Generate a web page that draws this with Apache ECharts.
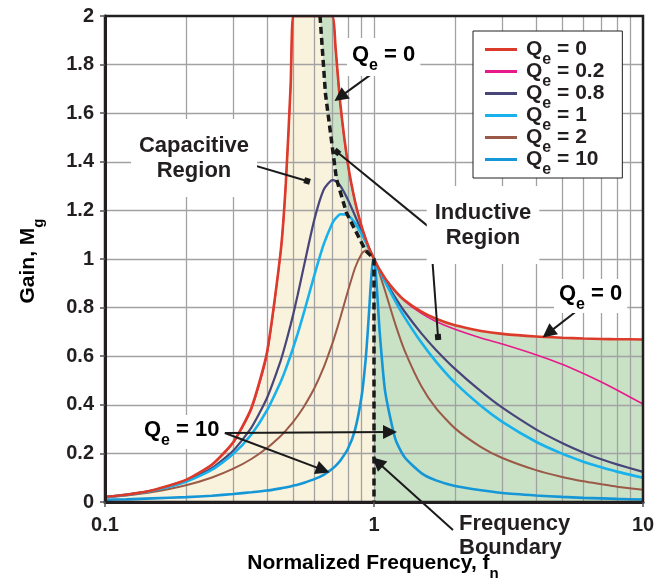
<!DOCTYPE html>
<html><head><meta charset="utf-8">
<script src="https://cdn.jsdelivr.net/npm/echarts@6/dist/echarts.min.js"></script>
<style>html,body{margin:0;padding:0;background:#fff}#c{width:665px;height:582px}</style>
</head><body><div id="c"></div>
<script>
// ---------- data ----------
const fn = [0.1, 0.12, 0.15, 0.2, 0.25, 0.3, 0.35, 0.4, 0.45, 0.47, 0.49, 0.5, 0.52, 0.55, 0.6, 0.65, 0.7, 0.72, 0.75, 0.8, 0.85, 0.9, 0.93, 0.95, 0.97, 0.98, 0.99, 1, 1.01, 1.02, 1.03, 1.05, 1.1, 1.2, 1.3, 1.5, 1.7, 2, 2.5, 3, 4, 5, 6, 7, 8, 10];
const gainQe0 = [0.021, 0.030, 0.048, 0.091, 0.154, 0.247, 0.387, 0.615, 1.032, 1.310, 1.717, 2, 2, 2, 2, 2, 2, 1.867, 1.636, 1.391, 1.238, 1.133, 1.085, 1.057, 1.032, 1.021, 1.010, 1, 0.990, 0.981, 0.972, 0.956, 0.920, 0.868, 0.830, 0.783, 0.754, 0.727, 0.704, 0.692, 0.681, 0.676, 0.673, 0.671, 0.670, 0.669];
const gainQe02 = [0.021, 0.030, 0.048, 0.091, 0.153, 0.244, 0.380, 0.605, 1.030, 1.305, 1.710, 2, 2, 2, 2, 2, 2, 1.862, 1.630, 1.387, 1.235, 1.132, 1.084, 1.057, 1.032, 1.021, 1.010, 1, 0.990, 0.981, 0.972, 0.955, 0.920, 0.866, 0.827, 0.776, 0.743, 0.711, 0.675, 0.650, 0.606, 0.567, 0.529, 0.494, 0.461, 0.403];
const gainQe08 = [0.020, 0.030, 0.047, 0.086, 0.140, 0.212, 0.306, 0.428, 0.582, 0.654, 0.730, 0.769, 0.851, 0.975, 1.162, 1.285, 1.325, 1.321, 1.301, 1.244, 1.178, 1.113, 1.076, 1.053, 1.031, 1.021, 1.010, 1, 0.990, 0.981, 0.971, 0.953, 0.911, 0.841, 0.783, 0.694, 0.626, 0.548, 0.455, 0.388, 0.299, 0.243, 0.204, 0.176, 0.155, 0.124];
const gainQe1 = [0.020, 0.029, 0.046, 0.083, 0.133, 0.198, 0.278, 0.377, 0.495, 0.548, 0.604, 0.633, 0.692, 0.783, 0.933, 1.060, 1.147, 1.167, 1.184, 1.179, 1.148, 1.102, 1.072, 1.051, 1.030, 1.020, 1.010, 1, 0.990, 0.980, 0.971, 0.951, 0.906, 0.827, 0.760, 0.656, 0.578, 0.491, 0.395, 0.330, 0.248, 0.199, 0.166, 0.143, 0.125, 0.100];
const gainQe2 = [0.019, 0.027, 0.041, 0.069, 0.101, 0.137, 0.177, 0.222, 0.272, 0.294, 0.317, 0.329, 0.354, 0.394, 0.468, 0.554, 0.652, 0.694, 0.759, 0.868, 0.963, 1.022, 1.035, 1.033, 1.024, 1.018, 1.009, 1, 0.990, 0.978, 0.966, 0.939, 0.868, 0.732, 0.623, 0.476, 0.386, 0.303, 0.226, 0.181, 0.131, 0.103, 0.085, 0.073, 0.063, 0.050];
const gainQe10 = [0.009, 0.011, 0.015, 0.020, 0.026, 0.033, 0.040, 0.047, 0.056, 0.060, 0.064, 0.067, 0.071, 0.079, 0.094, 0.112, 0.137, 0.149, 0.171, 0.219, 0.297, 0.437, 0.581, 0.716, 0.874, 0.944, 0.990, 1, 0.972, 0.914, 0.843, 0.699, 0.455, 0.260, 0.184, 0.119, 0.089, 0.066, 0.048, 0.037, 0.027, 0.021, 0.017, 0.015, 0.013, 0.010];
const qeLabels = ['0', '0.2', '0.8', '1', '2', '10'];

// boundary between capacitive and inductive regions (dashed line)
const boundaryFn = [0.63, 0.66, 0.70, 0.725, 0.79, 0.93, 1, 1];
const boundaryGain = [2, 1.68, 1.46, 1.33, 1.19, 1.035, 1, 0];

// grid lines
const gridFn = [0.2, 0.3, 0.4, 0.5, 0.6, 0.7, 0.8, 0.9, 1, 2, 3, 4, 5, 6, 7, 8, 9];
const gridGain = [0.2, 0.4, 0.6, 0.8, 1, 1.2, 1.4, 1.6, 1.8];

// annotation leader lines, in data coordinates [fn, gain]
const arrowLeaders = [
  [[0.99, 1.765], [0.748, 1.667]],
  [[5.73, 0.79], [4.44, 0.695]],
  [[0.279, 0.284], [1.147, 0.288]],
  [[0.279, 0.284], [0.646, 0.132]],
  [[1.966, -0.115], [1.03, 0.165]]
];
const dotLeaders = [
  [[0.299, 1.411], [0.564, 1.321]],
  [[1.615, 1.128], [0.729, 1.44]],
  [[1.615, 1.128], [1.73, 0.679]]
];

// ---------- styles ----------
const FONT = '"Liberation Sans", Arial, Helvetica, sans-serif';
const INK = '#231f20';
const curveSeriesData = [gainQe0, gainQe02, gainQe08, gainQe1, gainQe2, gainQe10];
const curveStyle = [
  {color: '#dc3b2b', width: 2.6},
  {color: '#e8198b', width: 1.6},
  {color: '#48457a', width: 2.2},
  {color: '#17b1ec', width: 2.6},
  {color: '#9b5a47', width: 2.0},
  {color: '#1596d6', width: 2.6}
];
const drawOrder = [1, 2, 4, 3, 5, 0];
const names = qeLabels.map(l => 'Qe = ' + l);

const pairs = (xs, ys) => xs.map((x, i) => [x, ys[i]]);

const curveSeries = drawOrder.map(k => ({
  name: names[k], type: 'line', data: pairs(fn, curveSeriesData[k]),
  showSymbol: false, symbol: 'none', smooth: 0.2, z: 3, silent: true,
  color: curveStyle[k].color,
  lineStyle: {color: curveStyle[k].color, width: curveStyle[k].width}
}));

// fills
const boundaryPts = pairs(boundaryFn, boundaryGain);
const capFill = pairs(fn, gainQe0).filter(p => p[0] < boundaryFn[0]).concat(boundaryPts);
const indFill = [[boundaryFn[0], 2]].concat(pairs(fn, gainQe0).filter(p => p[0] > boundaryFn[0]));

const rich = (big, small) => ({
  q: {fontSize: big, fontWeight: 'bold', fontFamily: FONT, color: INK, lineHeight: 22},
  e: {fontSize: small, fontWeight: 'bold', fontFamily: FONT, color: INK, lineHeight: 22, verticalAlign: 'bottom', height: 1}
});
const qeText = l => '{q|Q}{e|e}{q| = ' + l + '}';

const chart = echarts.init(document.getElementById('c'), null, {renderer: 'canvas'});
chart.setOption({
  animation: false,
  textStyle: {fontFamily: FONT},
  grid: {left: 105, right: 22, top: 16, bottom: 80, show: true, borderColor: INK, borderWidth: 2.5, backgroundColor: 'transparent', z: 6},
  xAxis: {
    type: 'log', logBase: 10, min: 0.1, max: 10, z: 6,
    axisLine: {lineStyle: {color: INK, width: 3}},
    axisTick: {length: 5, lineStyle: {color: '#555', width: 1.5}},
    axisLabel: {fontSize: 20, fontWeight: 'bold', color: INK, margin: 13, fontFamily: FONT},
    splitLine: {show: false}, minorTick: {show: false}
  },
  yAxis: {
    type: 'value', min: 0, max: 2, interval: 0.2, z: 6,
    axisLine: {show: true, lineStyle: {color: INK, width: 3}},
    axisTick: {show: true, length: 5, lineStyle: {color: '#555', width: 1.5}},
    axisLabel: {fontSize: 20, fontWeight: 'bold', color: INK, margin: 11, fontFamily: FONT},
    splitLine: {show: false}
  },
  legend: {
    data: names, orient: 'vertical', left: 473, top: 31, itemWidth: 32, itemHeight: 3, itemGap: -7,
    icon: 'rect', selectedMode: false, backgroundColor: '#fff', borderColor: INK, borderWidth: 1,
    padding: [8, 18, 0, 12], z: 20,
    formatter: n => qeText(n.replace('Qe = ', '')),
    textStyle: {fontSize: 21, fontWeight: 'bold', color: INK, padding: [0, 0, 0, 4], rich: rich(21, 16)}
  },
  series: [
    {name: 'indFill', type: 'line', data: indFill, symbol: 'none', silent: true, z: 1,
     lineStyle: {width: 0, opacity: 0}, areaStyle: {color: '#c9e2c6', opacity: 1}},
    {name: 'capFill', type: 'line', data: capFill, symbol: 'none', silent: true, z: 1,
     lineStyle: {width: 0, opacity: 0}, areaStyle: {color: '#f9f2dc', opacity: 1}},
    {name: 'gridlines', type: 'lines', coordinateSystem: 'cartesian2d', silent: true, z: 2,
     data: gridFn.map(x => ({coords: [[x, 0], [x, 2]]})).concat(gridGain.map(y => ({coords: [[0.1, y], [10, y]]}))),
     lineStyle: {color: '#a2a2a2', width: 1.3, opacity: 1}},
    ...curveSeries,
    {name: 'boundary', type: 'line', data: boundaryPts, symbol: 'none', silent: true, z: 4,
     lineStyle: {color: '#1a1a1a', width: 3.5, type: [7, 4]}},
    {name: 'arrows', type: 'lines', coordinateSystem: 'cartesian2d', silent: true, z: 5, clip: false,
     symbol: ['none', 'triangle'], symbolSize: 14,
     data: arrowLeaders.map(c => ({coords: c})),
     lineStyle: {color: '#1a1a1a', width: 2, opacity: 1}},
    {name: 'dots', type: 'lines', coordinateSystem: 'cartesian2d', silent: true, z: 5, clip: false,
     symbol: ['none', 'rect'], symbolSize: 6,
     data: dotLeaders.map(c => ({coords: c})),
     lineStyle: {color: '#1a1a1a', width: 2, opacity: 1}}
  ],
  graphic: [
    {type: 'text', x: 194, y: 158, z: 50, style: {text: 'Capacitive\nRegion', fontSize: 22, fontWeight: 'bold', fontFamily: FONT, fill: INK, align: 'center', verticalAlign: 'middle', lineHeight: 25, backgroundColor: '#fff', padding: [14, 8, 14, 8]}},
    {type: 'text', x: 483, y: 225, z: 50, style: {text: 'Inductive\nRegion', fontSize: 22, fontWeight: 'bold', fontFamily: FONT, fill: INK, align: 'center', verticalAlign: 'middle', lineHeight: 25, backgroundColor: '#fff', padding: [14, 8, 14, 8]}},
    {type: 'text', x: 457, y: 536, z: 50, style: {text: 'Frequency\nBoundary', fontSize: 22, fontWeight: 'bold', fontFamily: FONT, fill: INK, align: 'left', verticalAlign: 'middle', lineHeight: 24, backgroundColor: '#fff', padding: [0, 2, 0, 2]}},
    {type: 'text', x: 347, y: 57, z: 50, style: {text: qeText('0'), rich: rich(22, 16), align: 'left', verticalAlign: 'middle', backgroundColor: '#fff', padding: [6, 5, 10, 5]}},
    {type: 'text', x: 554, y: 296, z: 50, style: {text: qeText('0'), rich: rich(22, 16), align: 'left', verticalAlign: 'middle', backgroundColor: '#fff', padding: [4, 5, 8, 5]}},
    {type: 'text', x: 140, y: 432, z: 50, style: {text: qeText('10'), rich: rich(22, 16), align: 'left', verticalAlign: 'middle', backgroundColor: '#fff', padding: [4, 4, 8, 4]}},
    {type: 'text', x: 28, y: 261, z: 50, rotation: Math.PI / 2, style: {text: '{q|Gain, M}{e|g}', rich: rich(21, 15), align: 'center', verticalAlign: 'middle'}},
    {type: 'text', x: 373, y: 563, z: 50, style: {text: '{q|Normalized Frequency, f}{e|n}', rich: rich(21, 15), align: 'center', verticalAlign: 'middle'}}
  ]
});
</script>
</body></html>
